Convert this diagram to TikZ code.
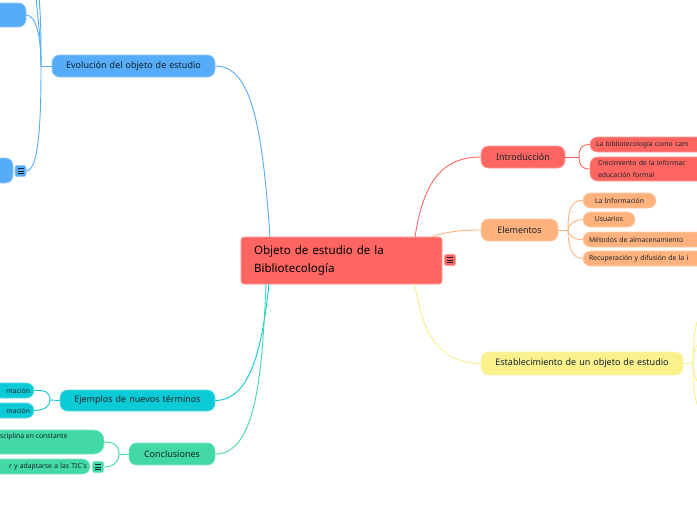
\documentclass[tikz,border=0pt]{standalone}
\usepackage{fontspec}
\setmainfont{Noto Sans}
\definecolor{cred}{HTML}{FF6661}
\definecolor{corange}{HTML}{FFB27D}
\definecolor{cyellow}{HTML}{FAF08C}
\definecolor{cblue}{HTML}{56ACF9}
\definecolor{cteal}{HTML}{0ACBD6}
\definecolor{cgreen}{HTML}{42D9A6}
\definecolor{ink}{HTML}{14232B}
\tikzset{
  pillbox/.style={draw=#1!65!white,fill=#1,line width=.7pt,rounded corners=7.5pt,inner sep=0pt,text=ink,font=\fontsize{9}{12}\selectfont,align=center},
  subbox/.style={pillbox=#1,font=\fontsize{6.8}{11.5}\selectfont},
  rootbox/.style={draw=cred!65!white,fill=cred,line width=.7pt,rounded corners=3pt,inner sep=0pt,text=black,font=\fontsize{11.6}{18}\selectfont\bfseries,align=left},
  iconbox/.style={draw=#1!65!white,fill=#1,line width=.6pt,rounded corners=2pt,minimum size=11pt,inner sep=0pt},
  link/.style={draw=#1,line width=.9pt},
}
% \pill{name}{x1}{y1}{x2}{y2}{style}{text-options}{text}
\newcommand{\pill}[8]{\node[#6,minimum width={(#4-#2)*1pt},minimum height={(#5-#3)*1pt},text width={(#4-#2)*1pt},#7] (#1) at ({(#2+#4)/2},{(#3+#5)/2}) {#8};}
\newcommand{\menuicon}[3]{\node[iconbox=#3] (#1) at (#2) {};
  \foreach \dy in {-2.5,0,2.5} \draw[ink,line width=.8pt] ($(#1.center)+(-3,\dy)$) -- ($(#1.center)+(3,\dy)$);}
\usetikzlibrary{calc}
\begin{document}
\begin{tikzpicture}[x=1pt,y=-1pt]
\useasboundingbox (0,0) rectangle (697,520);
\clip (0,0) rectangle (697,520);
\fill[white] (0,0) rectangle (697,520);
% free ends and junctions
\coordinate (rn) at (415,237);
\coordinate (rn2) at (431,237);
\coordinate (rs) at (415,284);
\coordinate (ln) at (270,237);
\coordinate (ls) at (269,284);
\coordinate (ls2) at (266,284);
\coordinate (evj) at (41,66);
\coordinate (offa) at (36,-3);
\coordinate (offb) at (39,-3);
\coordinate (ija) at (579,157);
\coordinate (ela) at (568,230);
\coordinate (esa) at (693,363);
\coordinate (offc) at (704,308);
\coordinate (offd) at (704,338);
\coordinate (offe) at (704,388);
\coordinate (offf) at (704,415);
\coordinate (eja) at (50,400);
\coordinate (coa) at (119,454);
% nodes
\node[rootbox,minimum width=201pt,minimum height=47pt,text width=175pt] (root) at (341.5,260.5) {Objeto de estudio de la\\Bibliotecología};
\pill{intro}{481}{146}{565}{168}{pillbox=cred}{}{Introducción}
\pill{elem}{481}{219}{558}{241}{pillbox=corange}{}{Elementos}
\pill{estab}{481}{352}{683}{375}{pillbox=cyellow}{}{Establecimiento de un objeto de estudio}
\pill{evol}{52}{55}{215}{77}{pillbox=cblue}{}{Evolución del objeto de estudio}
\pill{ejem}{60}{390}{215}{411}{pillbox=cteal}{}{Ejemplos de nuevos términos}
\pill{conc}{129}{443}{215}{465}{pillbox=cgreen}{}{Conclusiones}
\pill{biblio}{590}{137}{780}{152}{subbox=cred}{align=left,text width=178pt}{La bibliotecología como cam}
\pill{crec}{590}{157}{780}{181}{subbox=cred}{align=left,text width=174pt}{Crecimiento de la informac\\educación formal}
\pill{info}{583}{193}{656}{208}{subbox=corange}{}{La Información}
\pill{usu}{583}{212}{635}{227}{subbox=corange}{}{Usuarios}
\pill{met}{583}{232}{780}{247}{subbox=corange}{align=left,text width=185pt}{Métodos de almacenamiento}
\pill{recu}{583}{251}{780}{266}{subbox=corange}{align=left,text width=185pt}{Recuperación y difusión de la i}
\pill{topl}{-60}{3}{26}{27}{pillbox=cblue}{}{}
\pill{botl}{-60}{158}{13}{183}{pillbox=cblue}{}{}
\pill{ntac}{-40}{383}{34}{398}{subbox=cteal}{align=right,text width=66pt}{ntación}
\pill{maci}{-40}{403}{34}{418}{subbox=cteal}{align=right,text width=66pt}{mación}
\pill{disc}{-60}{430}{104}{454}{subbox=cgreen}{align=left,text width=136pt,yshift=-5pt,fill opacity=0,text opacity=1,draw opacity=0}{}
\fill[cgreen] (-60,430) rectangle (-60,430);
\node[draw=cgreen!65!white,fill=cgreen,line width=.7pt,rounded corners=10pt,minimum width=164pt,minimum height=24pt,inner sep=0pt] (discbg) at (22,442) {};
\node[font=\fontsize{6.8}{11}\selectfont,text=ink,anchor=west,inner sep=0pt] (disctxt) at (0,437) {sciplina en constante};
\pill{adap}{-60}{459}{90}{474}{subbox=cgreen}{align=right,text width=144pt}{r y adaptarse a las TIC´s}
\menuicon{iroot}{450,260}{cred}
\menuicon{ibot}{20.5,171}{cblue}
\menuicon{iadap}{98,467}{cgreen}
% connectors, root level
\draw[link=cred] (rn) .. controls (423,185) and (440,157) .. (intro.west);
\draw[link=corange] (rn2) .. controls (445,232) and (460,230) .. (elem.west);
\draw[link=cyellow] (rs) .. controls (422,335) and (440,363) .. (estab.west);
\draw[link=cblue] (ln) .. controls (262,120) and (250,66) .. (evol.east);
\draw[link=cteal] (ls) .. controls (262,350) and (250,400) .. (ejem.east);
\draw[link=cgreen] (ls2) .. controls (262,380) and (255,454) .. (conc.east);
% connectors, second level
\draw[link=cred] (intro.east) -- (ija);
\draw[link=cred] (ija) .. controls (579,147) and (582,145) .. (biblio.west);
\draw[link=cred] (ija) .. controls (579,165) and (582,169) .. (crec.west);
\draw[link=corange] (elem.east) -- (ela);
\draw[link=corange] (ela) .. controls (568,208) and (572,200) .. (info.west);
\draw[link=corange] (ela) .. controls (568,225) and (574,220) .. (usu.west);
\draw[link=corange] (ela) .. controls (568,235) and (574,240) .. (met.west);
\draw[link=corange] (ela) .. controls (568,250) and (574,259) .. (recu.west);
\draw[link=cyellow] (estab.east) -- (esa);
\draw[link=cyellow] (esa) .. controls (693,340) and (695,318) .. (offc);
\draw[link=cyellow] (esa) .. controls (693,350) and (697,342) .. (offd);
\draw[link=cyellow] (esa) .. controls (693,375) and (697,384) .. (offe);
\draw[link=cyellow] (esa) .. controls (693,390) and (695,408) .. (offf);
\draw[link=cblue] (evol.west) -- (evj);
\draw[link=cblue] (evj) .. controls (41,40) and (38,20) .. (offa);
\draw[link=cblue] (evj) .. controls (41,40) and (41,20) .. (offb);
\draw[link=cblue] (evj) .. controls (41,40) and (37,15) .. (topl.east);
\draw[link=cblue] (evj) .. controls (41,110) and (40,171) .. (ibot.east);
\draw[link=cteal] (ejem.west) -- (eja);
\draw[link=cteal] (eja) .. controls (50,392) and (45,390) .. (ntac.east);
\draw[link=cteal] (eja) .. controls (50,406) and (45,410) .. (maci.east);
\draw[link=cgreen] (conc.west) -- (coa);
\draw[link=cgreen] (coa) .. controls (119,446) and (115,442) .. (discbg.east);
\draw[link=cgreen] (coa) .. controls (119,460) and (115,467) .. (iadap.east);
\end{tikzpicture}
\end{document}
